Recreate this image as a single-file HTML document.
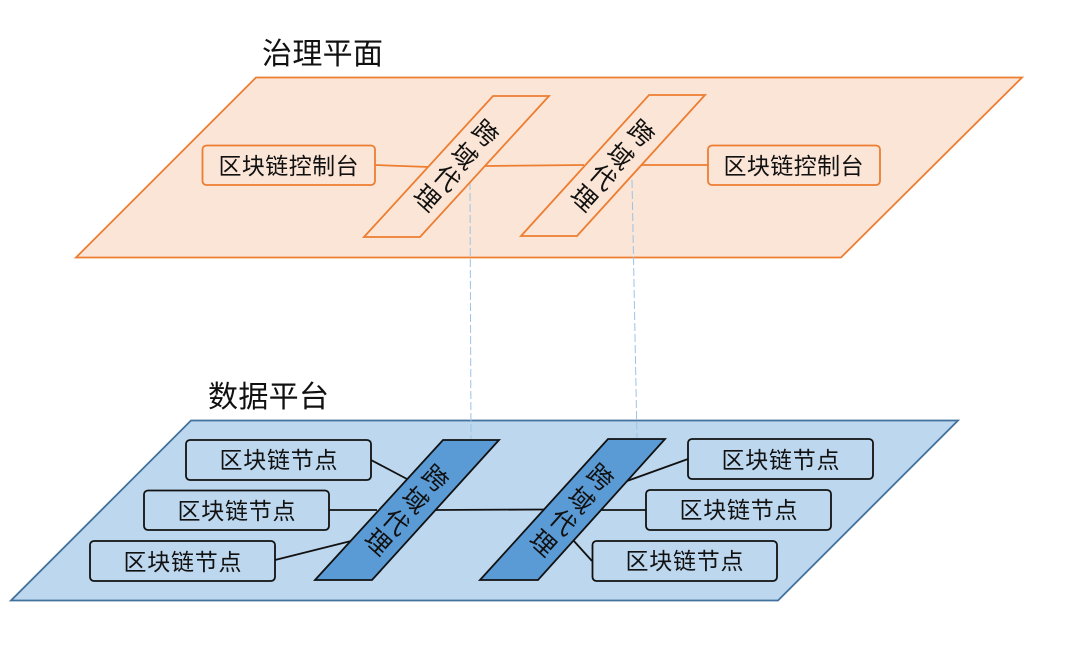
<!DOCTYPE html>
<html>
<head>
<meta charset="utf-8">
<style>
html,body{margin:0;padding:0;background:#fff;width:1080px;height:660px;overflow:hidden}
svg{display:block}
text{font-family:"Liberation Sans","Noto Sans CJK SC",sans-serif;fill:#111}
</style>
</head>
<body>
<svg width="1080" height="660" viewBox="0 0 1080 660" xmlns="http://www.w3.org/2000/svg">
<rect width="1080" height="660" fill="#fff"/>

<text x="262" y="64" font-size="30" textLength="121">治理平面</text>
<text x="208" y="407" font-size="30" textLength="121">数据平台</text>

<polygon points="256,77.500 1022,77.500 841,257.500 76,257.500" fill="#fbe5d6" stroke="#ed7d31" stroke-width="1.800"/>
<polygon points="191,420.500 958,420.500 778,600.500 11,600.500" fill="#bdd7ee" stroke="#41719c" stroke-width="1.800"/>

<g stroke="#9dc3e6" stroke-width="1" stroke-dasharray="8 3" fill="none">
<line x1="470" y1="182" x2="471" y2="440"/>
<line x1="632" y1="180" x2="637" y2="439"/>
</g>

<g stroke="#ed7d31" stroke-width="1.800" fill="none">
<line x1="375" y1="165" x2="429" y2="167"/>
<line x1="484" y1="166" x2="584" y2="165"/>
<line x1="641" y1="165" x2="708" y2="165"/>
</g>
<g fill="#fbe5d6" stroke="#ed7d31" stroke-width="1.800">
<polygon points="493,96 549,96 420,237 364,237"/>
<polygon points="649,95 705,95 577,236 521,236"/>
<rect x="202.500" y="145.500" width="172.500" height="39.500" rx="4"/>
<rect x="708" y="145.500" width="172" height="39.500" rx="4"/>
</g>

<g stroke="#111" stroke-width="1.800" fill="none">
<line x1="371" y1="460" x2="407" y2="479"/>
<line x1="329" y1="510" x2="377" y2="510"/>
<line x1="435" y1="510" x2="544" y2="509.500"/>
<line x1="599" y1="510" x2="646" y2="510"/>
<line x1="275" y1="560" x2="351" y2="541"/>
<line x1="627" y1="481" x2="688" y2="459"/>
<line x1="573" y1="540" x2="592" y2="561"/>
</g>
<g fill="#5b9bd5" stroke="#111" stroke-width="1.800">
<polygon points="443,440 499,440 372,580 315,580"/>
<polygon points="608,439 665,439 538,580 480,580"/>
</g>
<g fill="#bdd7ee" stroke="#111" stroke-width="1.800">
<rect x="186" y="440" width="185" height="40" rx="4"/>
<rect x="144" y="490.500" width="185" height="39.500" rx="4"/>
<rect x="90" y="541" width="185" height="40" rx="4"/>
<rect x="688" y="439" width="185" height="40" rx="4"/>
<rect x="646" y="490" width="185" height="40" rx="4"/>
<rect x="592.500" y="541" width="184.500" height="40" rx="4"/>
</g>

<g font-size="23">
<text x="218.500" y="174" textLength="140">区块链控制台</text>
<text x="723.500" y="174" textLength="140">区块链控制台</text>
<text x="219.500" y="468" textLength="118">区块链节点</text>
<text x="177.500" y="519" textLength="118">区块链节点</text>
<text x="123.500" y="570" textLength="118">区块链节点</text>
<text x="721.500" y="468" textLength="118">区块链节点</text>
<text x="679.500" y="518" textLength="118">区块链节点</text>
<text x="625.500" y="569" textLength="118">区块链节点</text>
</g>

<g font-size="25" text-anchor="middle">
<text transform="translate(485,133) rotate(42)" y="9">跨</text>
<text transform="translate(464,156) rotate(42)" y="9">域</text>
<text transform="translate(447,178) rotate(42)" y="9">代</text>
<text transform="translate(427,198) rotate(42)" y="9">理</text>

<text transform="translate(641,133) rotate(42)" y="9">跨</text>
<text transform="translate(620,156) rotate(42)" y="9">域</text>
<text transform="translate(603,177) rotate(42)" y="9">代</text>
<text transform="translate(584,198) rotate(42)" y="9">理</text>

<text transform="translate(435,478) rotate(42)" y="9">跨</text>
<text transform="translate(415,500) rotate(42)" y="9">域</text>
<text transform="translate(396,522) rotate(42)" y="9">代</text>
<text transform="translate(378,542) rotate(42)" y="9">理</text>

<text transform="translate(600,477) rotate(42)" y="9">跨</text>
<text transform="translate(581,500) rotate(42)" y="9">域</text>
<text transform="translate(563,522) rotate(42)" y="9">代</text>
<text transform="translate(543,543) rotate(42)" y="9">理</text>
</g>
</svg>
</body>
</html>
